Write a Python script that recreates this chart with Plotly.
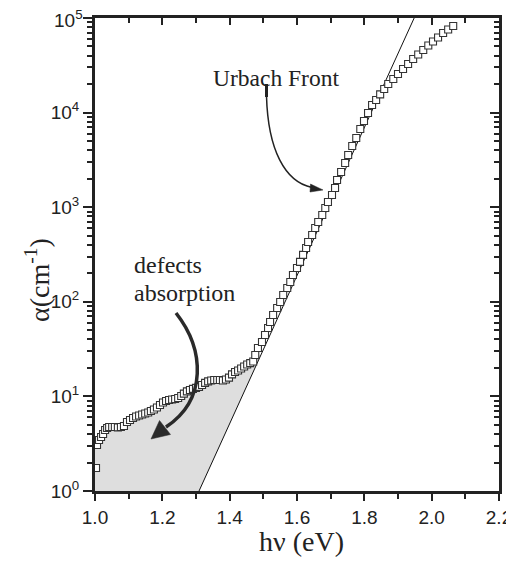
import math
import plotly.graph_objects as go

# ---- data ----
hv = [1.003, 1.006, 1.012, 1.018, 1.024, 1.030, 1.036, 1.042, 1.051, 1.059,
      1.068, 1.077, 1.086, 1.095, 1.104, 1.113, 1.122, 1.131, 1.140, 1.149,
      1.158, 1.166, 1.175, 1.184, 1.193, 1.202, 1.211, 1.220, 1.229, 1.238,
      1.247, 1.256, 1.264, 1.273, 1.282, 1.291, 1.300, 1.309, 1.318, 1.327,
      1.336, 1.345, 1.354, 1.363, 1.371, 1.380, 1.389, 1.398, 1.407, 1.416,
      1.425, 1.434, 1.443, 1.452, 1.461, 1.470, 1.476, 1.484, 1.496, 1.505,
      1.514, 1.520, 1.529, 1.541, 1.550, 1.559, 1.571, 1.580, 1.588, 1.600,
      1.609, 1.618, 1.627, 1.633, 1.645, 1.654, 1.663, 1.675, 1.684, 1.692,
      1.704, 1.713, 1.719, 1.731, 1.743, 1.752, 1.764, 1.776, 1.788, 1.799,
      1.811, 1.823, 1.835, 1.847, 1.859, 1.871, 1.886, 1.900, 1.915, 1.930,
      1.945, 1.960, 1.975, 1.990, 2.004, 2.019, 2.034, 2.049, 2.064]
alpha = [1.75, 3.06, 3.46, 3.72, 4.00, 4.41, 4.63, 4.75, 4.75, 4.75,
         4.70, 4.75, 4.86, 5.36, 5.63, 5.91, 6.13, 6.28, 6.44, 6.60,
         6.76, 7.01, 7.27, 7.63, 8.11, 8.62, 8.94, 9.16, 9.27, 9.39,
         9.62, 10.1, 10.7, 11.3, 11.7, 12.0, 12.3, 12.6, 13.2, 13.9,
         14.4, 14.7, 14.9, 14.9, 14.9, 14.7, 15.1, 15.8, 17.1, 18.1,
         18.8, 19.7, 20.7, 21.7, 22.5, 23.4, 27.4, 32.5, 37.6, 44.6,
         52.8, 61.1, 72.5, 86, 99.5, 118, 140, 162, 192, 228,
         264, 313, 371, 429, 508, 603, 698, 828, 981, 1135,
         1346, 1596, 1941, 2355, 2931, 3565, 4436, 5395, 6711, 8150,
         9910, 12030, 13600, 15600, 17750, 20050, 22650, 25600, 28900, 32660,
         36880, 41100, 45900, 51200, 56450, 62250, 69400, 75550, 82250]

# Urbach tail fit line (endpoints)
line_hv = [1.309, 1.948]
line_alpha = [1.0, 1.0e5]

x_range = [1.0, 2.2]
y_range_log = [0, 5]
x_ticks = [1.0, 1.2, 1.4, 1.6, 1.8, 2.0, 2.2]
x_ticktext = ["1.0", "1.2", "1.4", "1.6", "1.8", "2.0", "2.2"]
y_ticks = [1, 10, 100, 1000, 10000, 100000]
y_ticktext = ["10<sup>0</sup>", "10<sup>1</sup>", "10<sup>2</sup>",
              "10<sup>3</sup>", "10<sup>4</sup>", "10<sup>5</sup>"]

# ---- geometry (screen pixels of the 514x563 window) ----
WIN_W, WIN_H = 514, 563
OFF = 8                     # default page body margin
W, H = WIN_W - OFF, WIN_H - OFF
L, R, T, B = 95, 499, 18, 491   # plot area in screen pixels
INK = "#222222"


def px(xp):
    return (xp - L) / (R - L)


def py(yp):
    return (B - yp) / (B - T)


def path(cmds):
    out = []
    for c in cmds:
        if isinstance(c, str):
            out.append(c)
        else:
            out.append(f"{px(c[0]):.4f},{py(c[1]):.4f}")
    return " ".join(out)


# shaded "defects absorption" region: under data, above the Urbach line
k = alpha.index(27.4)
lg0, lg1 = math.log10(line_alpha[0]), math.log10(line_alpha[1])
x_int = line_hv[0] + (math.log10(alpha[k]) - lg0) / (lg1 - lg0) * (line_hv[1] - line_hv[0])
fill_x = [x_range[0], x_range[0]] + hv[1:k + 1] + [x_int, line_hv[0]]
fill_y = [line_alpha[0], alpha[1]] + alpha[1:k + 1] + [alpha[k], line_alpha[0]]

fig = go.Figure()
fig.add_trace(go.Scatter(x=fill_x, y=fill_y, mode="none", fill="toself",
                         fillcolor="#dedede", hoverinfo="skip", showlegend=False))
fig.add_trace(go.Scatter(x=line_hv, y=line_alpha, mode="lines",
                         line=dict(color="#111111", width=1), showlegend=False))
fig.add_trace(go.Scatter(x=hv, y=alpha, mode="markers",
                         marker=dict(symbol="square", size=7, color="white",
                                     line=dict(color="#333333", width=1.1)),
                         showlegend=False))
# invisible trace to carry the mirrored top/right axes
fig.add_trace(go.Scatter(x=hv, y=alpha, xaxis="x2", yaxis="y2", mode="markers",
                         marker=dict(opacity=0), hoverinfo="skip", showlegend=False))

tickfont = dict(family="Liberation Sans, Arial", size=19, color=INK)
common_x = dict(range=x_range, showgrid=False, zeroline=False, showline=True,
                linecolor=INK, linewidth=3, tickcolor=INK, tickwidth=2,
                automargin=False)
common_y = dict(type="log", range=y_range_log, showgrid=False, zeroline=False,
                showline=True, linecolor=INK, linewidth=3, tickcolor=INK, tickwidth=2,
                automargin=False)

# the top label (10^5) sits a little below its tick in the reference; it is
# drawn as an annotation so it is not clipped by the page top
y_ticktext_axis = y_ticktext[:-1] + [""]

fig.update_layout(
    width=W, height=H,
    margin=dict(l=L - OFF, r=WIN_W - R, t=T - OFF, b=WIN_H - B, autoexpand=False),
    paper_bgcolor="white", plot_bgcolor="white",
    xaxis=dict(**common_x, side="bottom", ticks="outside", ticklen=7,
               tickmode="array", tickvals=x_ticks, ticktext=x_ticktext,
               tickfont=tickfont, ticklabeloverflow="allow",
               minor=dict(ticks="outside", ticklen=5, dtick=0.1, tick0=1.0,
                          tickcolor=INK, tickwidth=2, showgrid=False)),
    yaxis=dict(**common_y, side="left", ticks="outside", ticklen=9,
               tickmode="array", tickvals=y_ticks, ticktext=y_ticktext_axis,
               tickfont=tickfont, ticklabeloverflow="allow",
               minor=dict(ticks="outside", ticklen=5, dtick="D1",
                          tickcolor=INK, tickwidth=2, showgrid=False)),
    xaxis2=dict(**common_x, overlaying="x", side="top", ticks="inside", ticklen=7,
                tickmode="array", tickvals=x_ticks, showticklabels=False,
                minor=dict(ticks="inside", ticklen=5, dtick=0.1, tick0=1.0,
                           tickcolor=INK, tickwidth=2, showgrid=False)),
    yaxis2=dict(**common_y, overlaying="y", side="right", ticks="inside", ticklen=9,
                tickmode="array", tickvals=y_ticks, showticklabels=False,
                minor=dict(ticks="inside", ticklen=5, dtick="D1",
                           tickcolor=INK, tickwidth=2, showgrid=False)),
)

fig.add_annotation(text=y_ticktext[-1], x=px(85), y=py(19), xref="paper", yref="paper",
                   xanchor="right", yanchor="middle", showarrow=False,
                   font=tickfont)

serif = "Liberation Serif, Times New Roman, serif"
annos = [
    dict(text="Urbach Front", x=px(276), y=py(78), size=23.5, xanchor="center"),
    dict(text="defects", x=px(132), y=py(265), size=24, xanchor="left"),
    dict(text="absorption", x=px(132), y=py(293), size=24, xanchor="left"),
    dict(text="hν (eV)", x=px(301), y=py(541), size=28, xanchor="center"),
]
for a in annos:
    fig.add_annotation(text=a["text"], x=a["x"], y=a["y"], xref="paper", yref="paper",
                       xanchor=a["xanchor"], yanchor="middle", showarrow=False,
                       font=dict(family=serif, size=a["size"], color=INK))
fig.add_annotation(text="α(cm<sup>-1</sup>)", x=px(37), y=py(280), xref="paper",
                   yref="paper", textangle=-90, showarrow=False,
                   xanchor="center", yanchor="middle",
                   font=dict(family=serif, size=28, color=INK))

# Urbach front arrow
fig.add_shape(type="path", xref="paper", yref="paper",
              path=path(["M", (266.5, 96), "C", (268, 150), (285, 182), (312, 187.5)]),
              line=dict(color=INK, width=1.5))
fig.add_shape(type="line", xref="paper", yref="paper",
              x0=px(266.5), y0=py(84), x1=px(266.5), y1=py(97),
              line=dict(color=INK, width=3))
fig.add_shape(type="path", xref="paper", yref="paper",
              path=path(["M", (323, 190), "L", (310.5, 184), "L", (310, 192), "Z"]),
              fillcolor=INK, line=dict(color=INK, width=0.5))

# defects absorption arrow
fig.add_shape(type="path", xref="paper", yref="paper",
              path=path(["M", (176, 313), "C", (205, 350), (207, 400), (166, 427)]),
              line=dict(color="#2a2a2a", width=3.5))
fig.add_shape(type="path", xref="paper", yref="paper",
              path=path(["M", (151, 439), "L", (159.5, 420.5), "L", (170.5, 434.5), "Z"]),
              fillcolor="#2a2a2a", line=dict(color="#2a2a2a", width=0.5))

fig.write_html("out.html")
